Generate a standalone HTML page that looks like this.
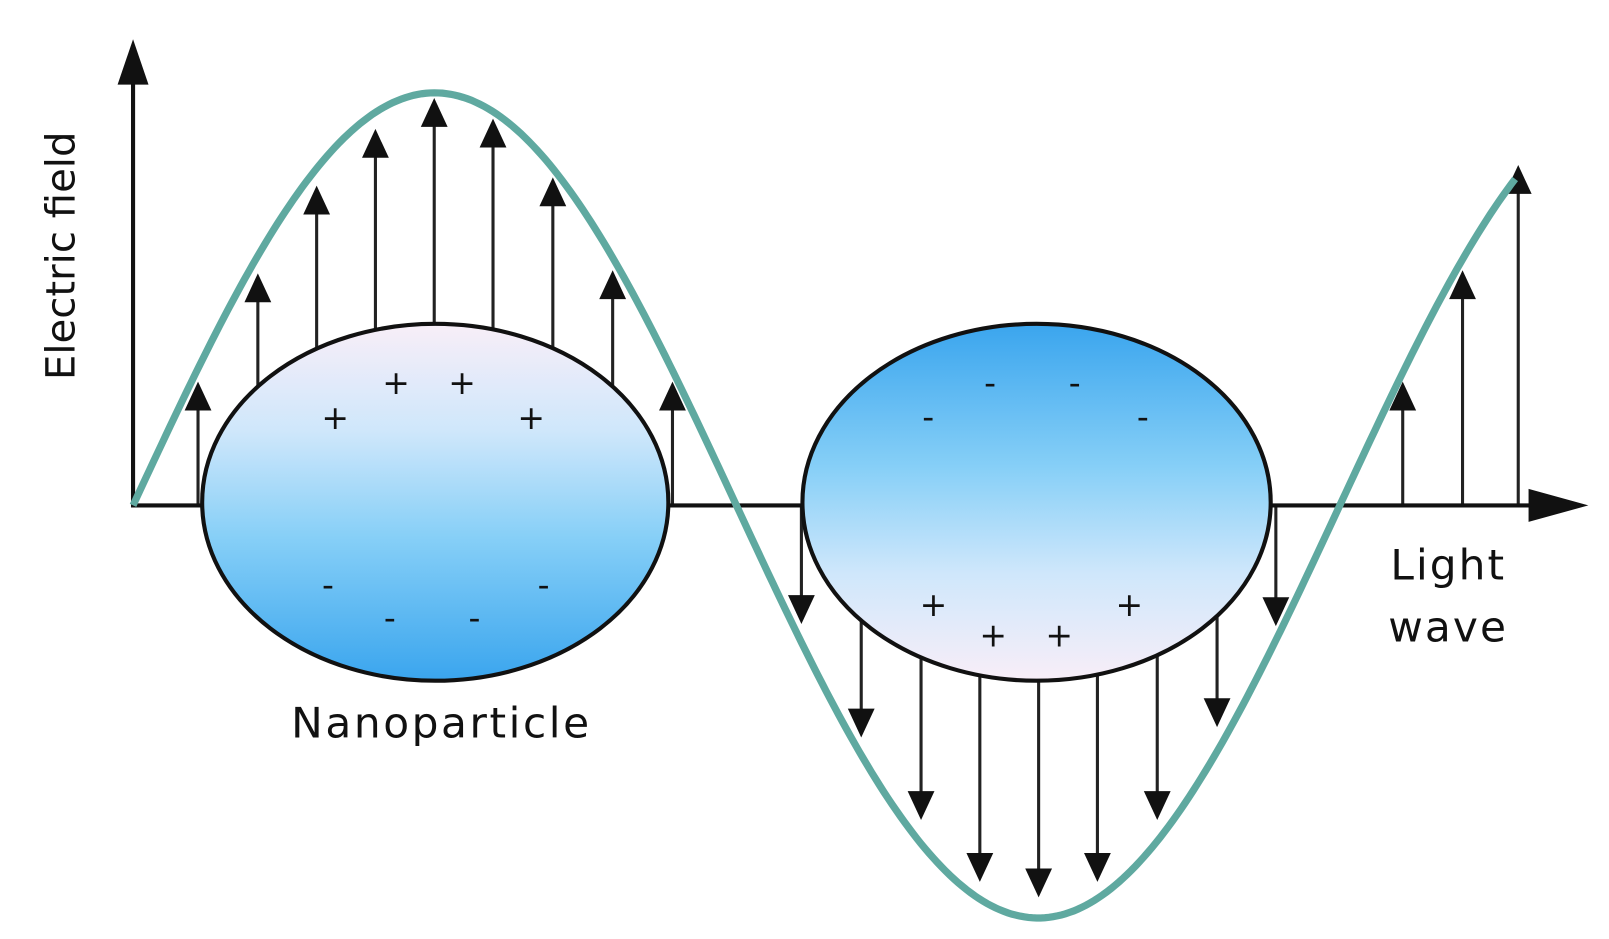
<!DOCTYPE html>
<html><head><meta charset="utf-8"><style>
html,body{margin:0;padding:0;background:#fff;width:1609px;height:939px;overflow:hidden}
svg{display:block}
text{font-family:"DejaVu Sans","Liberation Sans",sans-serif;fill:#111}
</style></head><body>
<svg id="s" width="1609" height="939" viewBox="0 0 1560 910.4" preserveAspectRatio="none" xmlns="http://www.w3.org/2000/svg">
<defs>
<linearGradient id="g1" x1="0" y1="0" x2="0" y2="1">
<stop offset="0" stop-color="#f8eef8"/><stop offset="0.3" stop-color="#cfe7fb"/><stop offset="0.6" stop-color="#86cff7"/><stop offset="1" stop-color="#3aa5ee"/>
</linearGradient>
<linearGradient id="g2" x1="0" y1="1" x2="0" y2="0">
<stop offset="0" stop-color="#f8eef8"/><stop offset="0.3" stop-color="#cfe7fb"/><stop offset="0.6" stop-color="#86cff7"/><stop offset="1" stop-color="#3aa5ee"/>
</linearGradient>
</defs>
<g id="arrows" stroke="#222" stroke-width="3" fill="#111"></g>
<line x1="129" y1="492" x2="129" y2="60" stroke="#111" stroke-width="4"/>
<polygon points="129,38 114,82 144,82" fill="#111"/>
<line x1="129" y1="490" x2="1500" y2="490" stroke="#111" stroke-width="4"/>
<polygon points="1540,490 1482,474 1482,506" fill="#111"/>
<ellipse cx="422" cy="487" rx="226" ry="173" fill="url(#g1)" stroke="#111" stroke-width="4"/>
<ellipse cx="1005" cy="487" rx="227" ry="173" fill="url(#g2)" stroke="#111" stroke-width="4"/>
<polyline id="wave" fill="none" stroke="#5fa9a0" stroke-width="7" points=""/>
<g font-size="32" text-anchor="middle">
<text x="384" y="382">+</text><text x="448" y="382">+</text><text x="325" y="416">+</text><text x="515" y="416">+</text>
<text x="318" y="578">-</text><text x="527" y="578">-</text><text x="378" y="610">-</text><text x="460" y="610">-</text>
<text x="960" y="382">-</text><text x="1042" y="382">-</text><text x="900" y="415">-</text><text x="1108" y="415">-</text>
<text x="905" y="597">+</text><text x="1095" y="597">+</text><text x="963" y="627">+</text><text x="1027" y="627">+</text>
</g>
<text x="428" y="715" font-size="41" text-anchor="middle" letter-spacing="2.5">Nanoparticle</text>
<text x="1348" y="562" font-size="41" letter-spacing="2">Light</text>
<text x="1346" y="622" font-size="41" letter-spacing="2">wave</text>
<text transform="translate(72,248) rotate(-90)" font-size="39" text-anchor="middle">Electric field</text>
</svg>
<script>
var pts=[];for(var x=129;x<=1472;x+=4){var y=490-400*Math.sin((x-129)/1170*2*Math.PI);pts.push(x+","+y.toFixed(1));}
document.getElementById('wave').setAttribute('points',pts.join(' '));
var up=[[192,370],[250,265],[307,180],[364,125],[421,95],[478,115],[536,172],[594,262],[652,370],[1360,370],[1418,262],[1472,160]];
var dn=[[777,605],[835,715],[893,795],[950,855],[1007,870],[1064,855],[1122,795],[1180,705],[1237,607]];
var g=document.getElementById('arrows'),h='';
up.forEach(function(a){h+='<line x1="'+a[0]+'" y1="490" x2="'+a[0]+'" y2="'+(a[1]+20)+'"/><polygon stroke="none" points="'+a[0]+','+a[1]+' '+(a[0]-13)+','+(a[1]+28)+' '+(a[0]+13)+','+(a[1]+28)+'"/>';});
dn.forEach(function(a){h+='<line x1="'+a[0]+'" y1="490" x2="'+a[0]+'" y2="'+(a[1]-20)+'"/><polygon stroke="none" points="'+a[0]+','+a[1]+' '+(a[0]-13)+','+(a[1]-28)+' '+(a[0]+13)+','+(a[1]-28)+'"/>';});
g.innerHTML=h;
</script>
</body></html>
